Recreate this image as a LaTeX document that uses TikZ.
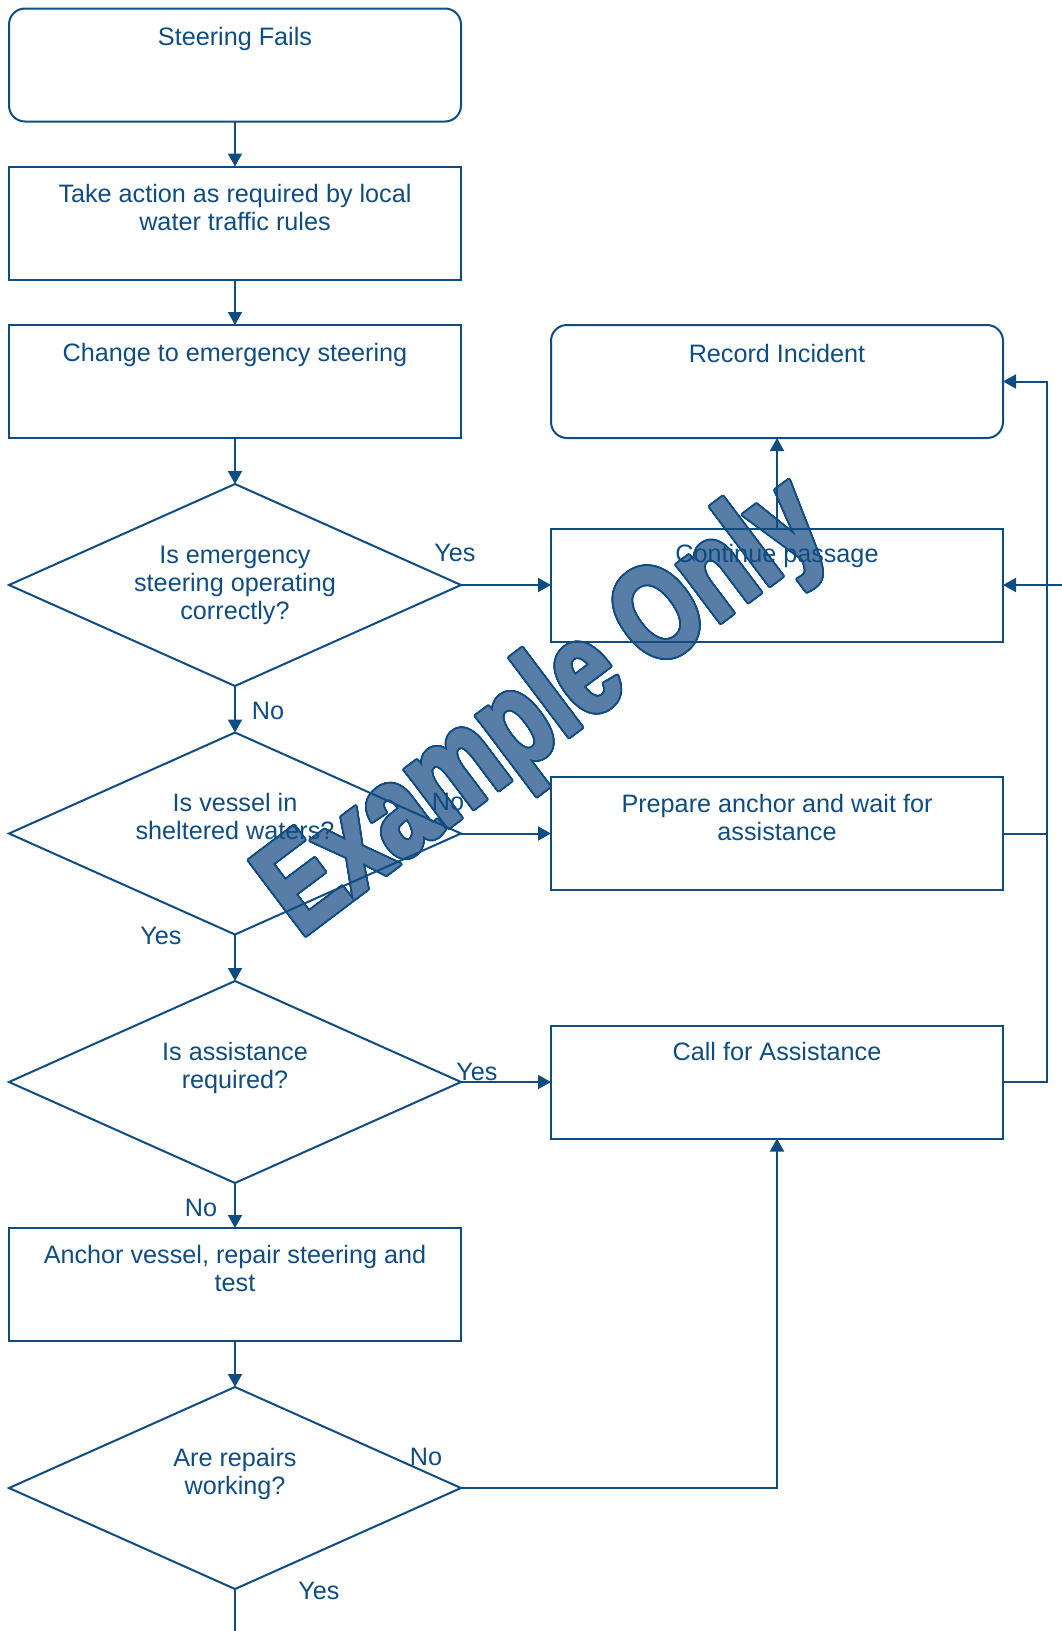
\documentclass[tikz,border=0pt]{standalone}
\usepackage{fontspec}
\setmainfont{Liberation Sans}
\newfontfamily\wmfont[FakeStretch=0.75,FakeBold=2]{Liberation Sans}
\usepackage{contour}
\contourlength{1.8pt}
\contournumber{32}
\usetikzlibrary{arrows.meta,shapes.geometric}
\definecolor{ink}{HTML}{0F4C81}
\definecolor{wmfill}{RGB}{88,126,168}

\begin{document}
\begin{tikzpicture}[x=1pt,y=-1pt,
  every node/.style={inner sep=0pt, outer sep=0pt},
  box/.style={draw=ink, line width=2pt, minimum width=452pt, minimum height=113pt},
  rbox/.style={box, rounded corners=16pt},
  decision/.style={diamond, draw=ink, line width=2pt, minimum width=452pt, minimum height=202pt, aspect=2.24},
  % multi-line texts: the base anchor sits on the last line
  txt/.style={text=ink, align=center, anchor=base, font=\fontsize{25.2}{28.4}\selectfont},
  lab/.style={text=ink, font=\fontsize{25.2}{28.4}\selectfont},
  link/.style={draw=ink, line width=2pt},
  arr/.style={link, -{Triangle[length=13pt,width=14pt]}},
  wm/.style={anchor=base, rotate=37, text=wmfill, font=\wmfont\bfseries\fontsize{134}{134}\selectfont}
]
\useasboundingbox (0,0) rectangle (1061,1631);

% watermark behind the chart
\node[wm] (wm) at (566,738) {\contour{ink}{Example Only}};

% left column
\node[rbox] (sf) at (235,65) {};
\node[box] (ta) at (235,223) {};
\node[box] (ce) at (235,381.5) {};
\node[decision] (d1) at (235,585) {};
\node[decision] (d2) at (235,833.5) {};
\node[decision] (d3) at (235,1082) {};
\node[box] (av) at (235,1284.5) {};
\node[decision] (d4) at (235,1488) {};

% right column
\node[rbox] (ri) at (777,381.5) {};
\node[box] (cp) at (777,585) {};
\node[box] (pa) at (777,833.5) {};
\node[box] (ca) at (777,1082) {};

% box texts
\node[txt] (sf-t) at (235,45) {Steering Fails};
\node[txt] (ta-t) at (235,230.4) {Take action as required by local\\water traffic rules};
\node[txt] (ce-t) at (235,361) {Change to emergency steering};
\node[txt] (d1-t) at (235,619.8) {Is emergency\\steering operating\\correctly?};
\node[txt] (d2-t) at (235,839.9) {Is vessel in\\sheltered waters?};
\node[txt] (d3-t) at (235,1088.4) {Is assistance\\required?};
\node[txt] (av-t) at (235,1291.9) {Anchor vessel, repair steering and\\test};
\node[txt] (d4-t) at (235,1494.4) {Are repairs\\working?};
\node[txt] (ri-t) at (777,362) {Record Incident};
\node[txt] (cp-t) at (777,562) {Continue passage};
\node[txt] (pa-t) at (777,840.4) {Prepare anchor and wait for\\assistance};
\node[txt] (ca-t) at (777,1060) {Call for Assistance};

% branch labels
\node[lab] (l1y) at (455,553) {Yes};
\node[lab] (l1n) at (268,711) {No};
\node[lab] (l2n) at (448,802) {No};
\node[lab] (l2y) at (161,936) {Yes};
\node[lab] (l3y) at (477,1072) {Yes};
\node[lab] (l3n) at (201,1208) {No};
\node[lab] (l4n) at (426,1457) {No};
\node[lab] (l4y) at (319,1591) {Yes};

% free ends and the return bus
\coordinate (bus) at (1047,0);
\coordinate (inflow) at (1070,585);
\coordinate (outflow) at (235,1640);

% main flow
\draw[arr] (sf.south) -- (ta.north);
\draw[arr] (ta.south) -- (ce.north);
\draw[arr] (ce.south) -- (d1.north);
\draw[arr] (d1.east) -- (cp.west);
\draw[arr] (d1.south) -- (d2.north);
\draw[arr] (d2.east) -- (pa.west);
\draw[arr] (d2.south) -- (d3.north);
\draw[arr] (d3.east) -- (ca.west);
\draw[arr] (d3.south) -- (av.north);
\draw[arr] (av.south) -- (d4.north);
\draw[arr] (d4.east) -| (ca.south);
\draw[link] (d4.south) -- (outflow);

% right side connectors
\draw[arr] (cp.north) -- (ri.south);
\draw[arr] (inflow) -- (cp.east);
\draw[link] (pa.east) -- (pa.east -| bus);
\draw[arr] (ca.east) -- (ca.east -| bus) |- (ri.east);
\end{tikzpicture}
\end{document}
